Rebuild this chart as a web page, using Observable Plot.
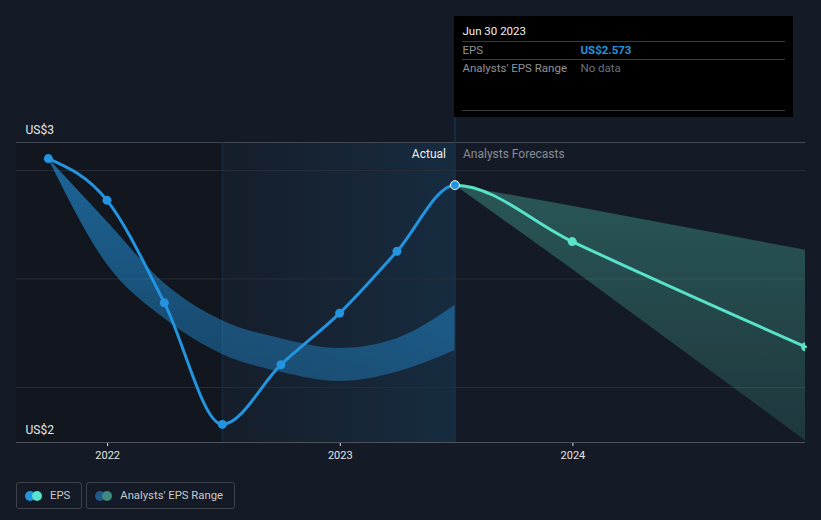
<!DOCTYPE html>
<html>
<head>
<meta charset="utf-8">
<script src="https://cdn.jsdelivr.net/npm/d3@7"></script>
<script src="https://cdn.jsdelivr.net/npm/@observablehq/plot@0.6"></script>
<style>
  html, body { margin: 0; padding: 0; background: #151b26; }
  body { width: 821px; height: 520px; overflow: hidden; font-family: Roboto, "Noto Sans", sans-serif; }
  #wrap { position: relative; width: 821px; }
  #tip { position: absolute; top: 16px; width: 339px; height: 101px; background: #000; box-sizing: border-box; padding: 0 8px; font-size: 11.5px; }
  #tip .title { color: #f2f2f2; height: 25px; line-height: 30px; border-bottom: 1px solid #3a3a3a; }
  #tip .row { height: 17px; line-height: 16px; border-bottom: 1px solid #3a3a3a; display: flex; color: #8f9399; }
  #tip .row.last { height: 50px; }
  #tip .row span:first-child { width: 118px; }
  #legend { display: flex; gap: 4px; margin: 12px 0 0 16px; }
  .item { display: flex; align-items: center; height: 25px; border: 1px solid #3d424b; border-radius: 3px; padding: 0 11px 0 8px; color: #c7c9cc; font-size: 11.3px; }
  .sw { position: relative; width: 17px; height: 10px; margin-right: 8px; }
  .sw i { position: absolute; top: 0; width: 10px; height: 10px; border-radius: 50%; }
</style>
</head>
<body>
<div id="wrap"></div>
<script>
// ---- data ----
const actualDates = ["2021-09-30","2021-12-31","2022-03-31","2022-06-30","2022-09-30","2022-12-31","2023-03-31","2023-06-30"];
const actualEps   = [2.622, 2.545, 2.356, 2.132, 2.242, 2.337, 2.451, 2.573];
const pastRangeHigh = [2.622, 2.506, 2.392, 2.323, 2.290, 2.272, 2.290, 2.351];
const pastRangeLow  = [2.622, 2.427, 2.327, 2.261, 2.228, 2.211, 2.228, 2.268];

const forecastDates = ["2023-06-30","2023-12-31","2024-12-31"];
const forecastEps   = [2.573, 2.469, 2.275];
const forecastHigh  = [2.573, 2.534, 2.453];
const forecastLow   = [2.573, 2.418, 2.102];

const xDomain = ["2021-08-11", "2024-12-31"];
const yDomain = [2.0986, 2.6516];
const gridValues = [2.2, 2.4, 2.6];
const tickYears = ["2022-01-01", "2023-01-01", "2024-01-01"];
const yLabels = ["US$3", "US$2"];
const pastYearStart = "2022-06-30";
const lastActual = "2023-06-30";
const sectionLabels = ["Actual", "Analysts Forecasts"];
const tooltipDate = "Jun 30 2023";
const tooltipRows = [["EPS", "US$2.573"], ["Analysts' EPS Range", "No data"]];
const legendItems = ["EPS", "Analysts' EPS Range"];

const P = s => new Date(s);
const actual = actualDates.map((d, i) => ({date: P(d), eps: actualEps[i], hi: pastRangeHigh[i], lo: pastRangeLow[i]}));
const forecast = forecastDates.map((d, i) => ({date: P(d), eps: forecastEps[i], hi: forecastHigh[i], lo: forecastLow[i]}));

// monotone-x curve where the joining point (the peak) has a flat tangent,
// as if actual + forecast were one continuous monotone series
function monotoneFlat(flatStart, flatEnd) {
  return function(context) {
    let pts;
    return {
      areaStart() {}, areaEnd() {},
      lineStart() { pts = []; },
      point(x, y) { pts.push([+x, +y]); },
      lineEnd() {
        const n = pts.length;
        if (!n) return;
        context.moveTo(pts[0][0], pts[0][1]);
        if (n === 1) return;
        const s = [];
        for (let i = 0; i < n - 1; i++) s.push((pts[i+1][1] - pts[i][1]) / (pts[i+1][0] - pts[i][0]));
        const m = new Array(n);
        for (let i = 1; i < n - 1; i++) {
          const h0 = pts[i][0] - pts[i-1][0], h1 = pts[i+1][0] - pts[i][0];
          const p = (s[i-1] * h1 + s[i] * h0) / (h0 + h1);
          m[i] = (Math.sign(s[i-1]) + Math.sign(s[i])) * Math.min(Math.abs(s[i-1]), Math.abs(s[i]), 0.5 * Math.abs(p)) || 0;
        }
        if (n === 2) { m[0] = flatStart ? 0 : s[0]; m[1] = flatEnd ? 0 : s[0]; }
        else {
          m[0] = flatStart ? 0 : (3 * s[0] - m[1]) / 2;
          m[n-1] = flatEnd ? 0 : (3 * s[n-2] - m[n-2]) / 2;
        }
        for (let i = 0; i < n - 1; i++) {
          const [x0, y0] = pts[i], [x1, y1] = pts[i+1];
          const dx = (x1 - x0) / 3;
          context.bezierCurveTo(x0 + dx, y0 + dx * m[i], x1 - dx, y1 - dx * m[i+1], x1, y1);
        }
      }
    };
  };
}

const defs = () => {
  const g = d3.create("svg:defs");
  const a = g.append("linearGradient").attr("id", "pastShade").attr("x1", 0).attr("x2", 1).attr("y1", 0).attr("y2", 0);
  a.append("stop").attr("offset", "0%").attr("stop-color", "#2394df").attr("stop-opacity", 0.02);
  a.append("stop").attr("offset", "100%").attr("stop-color", "#2394df").attr("stop-opacity", 0.14);
  const b = g.append("linearGradient").attr("id", "pastBand").attr("x1", 0).attr("x2", 0).attr("y1", 0).attr("y2", 1);
  b.append("stop").attr("offset", "0%").attr("stop-color", "#2394df").attr("stop-opacity", 0.62);
  b.append("stop").attr("offset", "100%").attr("stop-color", "#2394df").attr("stop-opacity", 0.38);
  const c = g.append("linearGradient").attr("id", "foreBand").attr("x1", 0).attr("x2", 0).attr("y1", 0).attr("y2", 1);
  c.append("stop").attr("offset", "0%").attr("stop-color", "#58e2c9").attr("stop-opacity", 0.3);
  c.append("stop").attr("offset", "100%").attr("stop-color", "#58e2c9").attr("stop-opacity", 0.14);
  return g.node();
};

const chart = Plot.plot({
  width: 821,
  height: 470,
  marginTop: 142,
  marginBottom: 28,
  marginLeft: 16,
  marginRight: 16,
  style: {background: "none", fontFamily: "Roboto, 'Noto Sans', sans-serif", fontSize: "11px", color: "#e3e3e3", overflow: "visible"},
  x: {type: "utc", domain: xDomain.map(P), ticks: tickYears.map(P), tickFormat: d3.utcFormat("%Y"), tickSize: 4, tickPadding: 5, label: null},
  y: {domain: yDomain, axis: null},
  marks: [
    defs,
    Plot.rect([{a: P(xDomain[0]), b: P(pastYearStart)}], {x1: "a", x2: "b", fill: "#11161f"}),
    Plot.rect([{a: P(pastYearStart), b: P(lastActual)}], {x1: "a", x2: "b", fill: "url(#pastShade)"}),
    Plot.ruleY(gridValues, {stroke: "#272e39", strokeWidth: 1}),
    Plot.ruleY([yDomain[1]], {stroke: "#434955", strokeWidth: 1}),
    Plot.ruleY([yDomain[0]], {stroke: "#4d525c", strokeWidth: 1.2}),
    Plot.ruleX([P(pastYearStart)], {stroke: "#1b2d40", strokeWidth: 1}),
    Plot.ruleX([P(lastActual)], {stroke: "#1d3653", strokeWidth: 1.2, insetTop: -126}),
    Plot.areaY(actual, {x: "date", y1: "lo", y2: "hi", curve: "monotone-x", fill: "url(#pastBand)"}),
    Plot.areaY(forecast, {x: "date", y1: "lo", y2: "hi", curve: "linear", fill: "url(#foreBand)"}),
    Plot.line(forecast, {x: "date", y: "eps", curve: monotoneFlat(true, false), stroke: "#58e2c9", strokeWidth: 3}),
    Plot.dot(forecast.slice(1), {x: "date", y: "eps", r: 4.5, fill: "#58e2c9", clip: true}),
    Plot.line(actual, {x: "date", y: "eps", curve: monotoneFlat(false, true), stroke: "#2394df", strokeWidth: 3}),
    Plot.dot(actual.slice(0, -1), {x: "date", y: "eps", r: 4.5, fill: "#2394df"}),
    Plot.dot(actual.slice(-1), {x: "date", y: "eps", r: 4.5, fill: "#2394df", stroke: "#ffffff", strokeWidth: 1}),
    Plot.text([sectionLabels[0]], {x: () => P(lastActual), frameAnchor: "top", lineAnchor: "middle", dy: 12, dx: -9, textAnchor: "end", fill: "#eeeeee", fontSize: 12}),
    Plot.text([sectionLabels[1]], {x: () => P(lastActual), frameAnchor: "top", lineAnchor: "middle", dy: 12, dx: 8, textAnchor: "start", fill: "#868b94", fontSize: 12}),
    Plot.text([yLabels[0]], {frameAnchor: "top-left", lineAnchor: "middle", dx: 9, dy: -12, textAnchor: "start", fill: "#e8e8e8", fontSize: 12}),
    Plot.text([yLabels[1]], {frameAnchor: "bottom-left", lineAnchor: "middle", dx: 9, dy: -12, textAnchor: "start", fill: "#e8e8e8", fontSize: 12})
  ]
});

const wrap = document.getElementById("wrap");
wrap.appendChild(chart);

// tooltip
const tip = document.createElement("div");
tip.id = "tip";
tip.style.left = chart.scale("x").apply(P(lastActual)) + "px";
let html = `<div class="title">${tooltipDate}</div>`;
tooltipRows.forEach((r, i) => {
  const valStyle = i === 0 ? "color:#2394df;font-weight:bold" : "color:#6d7178";
  html += `<div class="row${i === tooltipRows.length - 1 ? " last" : ""}"><span>${r[0]}</span><span style="${valStyle}">${r[1]}</span></div>`;
});
tip.innerHTML = html;
wrap.appendChild(tip);

// legend
const legend = document.createElement("div");
legend.id = "legend";
const swatches = [["#2394df", "#58e2c9"], ["#1f5a8a", "#3e8a80"]];
legendItems.forEach((name, i) => {
  const it = document.createElement("div");
  it.className = "item";
  it.innerHTML = `<span class="sw"><i style="left:0;background:${swatches[i][0]}"></i><i style="left:7px;background:${swatches[i][1]}"></i></span><span>${name}</span>`;
  legend.appendChild(it);
});
document.body.appendChild(legend);
</script>
</body>
</html>
